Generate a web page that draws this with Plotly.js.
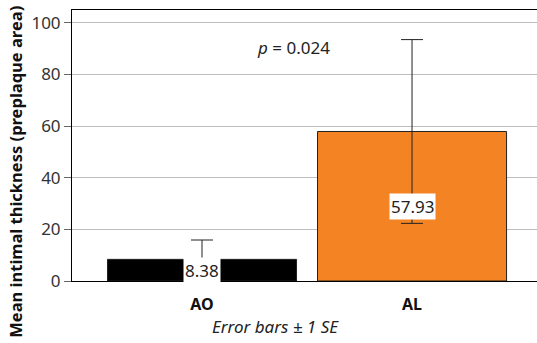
<!DOCTYPE html>
<html><head><meta charset="utf-8">
<script src="https://cdn.plot.ly/plotly-3.0.1.min.js"></script>
<style>html,body{margin:0;padding:0;background:#fff}#c{width:537px;height:343px}</style>
</head><body><div id="c"></div>
<script>
var categories = ["AO", "AL"];
var means = [8.38, 57.93];
var se = [7.5, 35.6];
var barColors = ["#000000", "#F48423"];
var valueLabels = ["8.38", "57.93"];
var yTicks = [0, 20, 40, 60, 80, 100];

var trace = {
  type: "bar", x: categories, y: means, width: 0.9,
  marker: {color: barColors, line: {color: "#222", width: 1}},
  error_y: {type: "data", array: se, visible: true, color: "#222", thickness: 1, width: 11},
  hoverinfo: "none"
};
var ann = categories.map(function(c, i){
  return {x: c, y: means[i]/2, xref: "x", yref: "y", text: valueLabels[i], showarrow: false,
    bgcolor: "#fff", borderpad: 1, font: {family: "Noto Sans", size: 17, color: "#222"}};
});
var L = 72, R = 0, T = 10, B = 61.5, W = 537, H = 343;
var pw = W - L - R, ph = H - T - B;
function px(x){ return (x - L) / pw; }
function py(y){ return (H - y - B) / ph; }
ann.push({x: px(293), y: py(48), xref: "paper", yref: "paper", yanchor: "middle",
  text: "<i>p</i> = 0.024", showarrow: false, font: {family: "Noto Sans", size: 17, color: "#222"}});
ann.push({x: px(275), y: py(327), xref: "paper", yref: "paper", yanchor: "middle",
  text: "<i>Error bars ± 1 SE</i>", showarrow: false, font: {family: "Noto Sans", size: 17, color: "#222"}});
ann.push({x: px(16), y: py(172), xref: "paper", yref: "paper", xanchor: "center", yanchor: "middle",
  textangle: -90, text: "<b>Mean intimal thickness (preplaque area)</b>", showarrow: false,
  font: {family: "Noto Sans", size: 16.5, color: "#111"}});

var layout = {
  width: W, height: H, margin: {l: L, r: R, t: T, b: B, pad: 0},
  paper_bgcolor: "#fff", plot_bgcolor: "#fff", showlegend: false,
  font: {family: "Noto Sans", color: "#222"},
  xaxis: {range: [-0.619, 1.595], showline: true, mirror: true, linecolor: "#000", linewidth: 1,
    ticks: "", showgrid: false, zeroline: false, ticklabelstandoff: 9,
    tickfont: {family: "Noto Sans", size: 16, color: "#111", weight: "bold"}},
  yaxis: {range: [0, 105], tickvals: yTicks, showline: true, linecolor: "#000", linewidth: 1,
    ticks: "outside", ticklen: 7, tickcolor: "#666", gridcolor: "#bdbdbd", gridwidth: 1, zeroline: false,
    tickfont: {family: "Noto Sans", size: 17, color: "#333"}},
  annotations: ann
};
Plotly.newPlot("c", [trace], layout, {staticPlot: true});
</script></body></html>
